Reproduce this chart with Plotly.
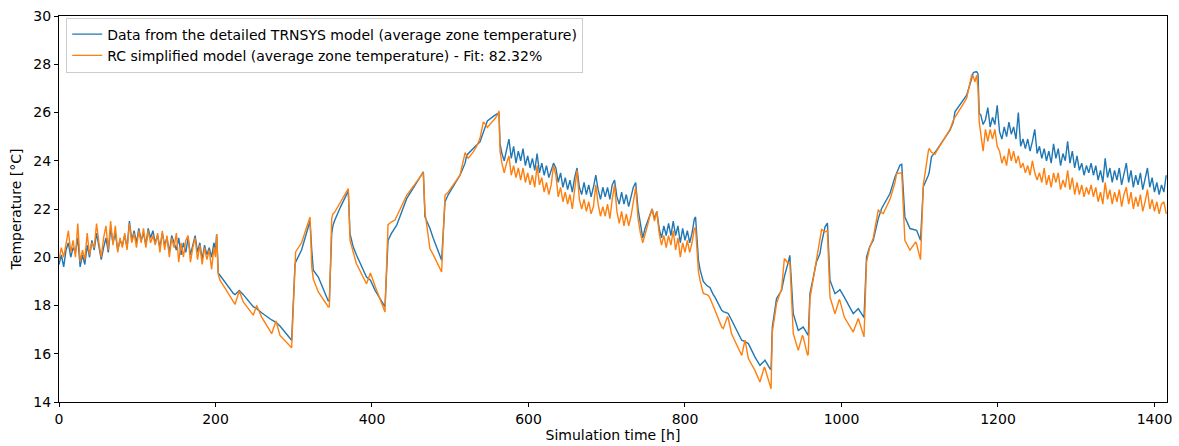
import plotly.graph_objects as go

# ---------------- data ----------------
# Segment A: noisy start, every 3 h from 0 to 198 h
hours_A = list(range(0, 199, 3))
blue_A = [19.7, 20.1, 19.6, 20.3, 20.6, 20.0, 20.4, 20.2, 20.8, 19.6,
          20.1, 19.7, 20.5, 20.0, 20.7, 20.3, 21.0, 20.5, 19.9, 20.4,
          20.8, 20.2, 21.2, 20.6, 21.0, 20.3, 20.7, 20.5, 20.9, 20.4,
          21.5, 20.7, 21.1, 20.6, 21.2, 20.7, 21.0, 20.5, 21.2, 20.8,
          21.1, 20.6, 20.9, 20.4, 21.0, 20.5, 20.8, 20.2, 20.9, 20.6,
          20.3, 20.8, 20.1, 20.6, 20.2, 20.8, 20.1, 20.5, 20.9, 20.2,
          20.6, 19.9, 20.5, 20.1, 20.4, 20.0, 20.6]
orange_A = [19.9, 20.4, 20.0, 20.6, 21.1, 20.2, 20.7, 20.0, 21.4, 19.8,
            20.3, 19.9, 21.0, 20.1, 20.6, 20.4, 21.4, 20.6, 20.0, 20.8,
            21.3, 20.3, 21.5, 20.5, 21.3, 20.2, 20.8, 20.4, 21.0, 20.3,
            21.4, 20.6, 21.0, 20.4, 21.1, 20.6, 21.2, 20.4, 21.1, 20.6,
            20.9, 20.5, 21.0, 20.2, 21.1, 20.3, 20.9, 20.0, 20.8, 20.4,
            21.0, 19.8, 20.6, 20.0, 20.7, 20.9, 19.8, 20.4, 20.8, 19.9,
            20.5, 19.7, 20.4, 19.9, 20.3, 19.5, 20.4]

# Segment B: smooth part 200 - 564 h
hours_B = [200, 201.5, 203.5, 205.7, 214, 222.8, 225, 230.4, 235.5, 248.3,
           252.6, 259, 271.8, 277.3, 282.4, 297.3, 301.6, 302.4, 310, 318.6,
           320.8, 323, 325, 331.4, 344, 345.5, 348.5, 350, 352, 360,
           369.7, 371.9, 376, 380, 393, 398, 404, 416.6, 420.5, 425,
           429.4, 431.6, 444.3, 465.6, 467.7, 474, 478.4, 489, 493.3, 497.5,
           512.5, 519, 521, 523, 529.5, 533.8, 538, 542.3, 546.6, 547.4,
           557.2, 561.4, 562.3, 563.6]
blue_B = [20.3, 20.95, 19.35, 19.25, 18.9, 18.5, 18.45, 18.62, 18.45, 17.95,
          17.87, 17.7, 17.4, 17.3, 17.15, 16.56, 19.7, 19.8, 20.3, 21.3,
          21.5, 20.3, 19.46, 19.18, 18.2, 18.2, 20.98, 21.3, 21.5, 22.1,
          22.75, 20.98, 20.43, 20.1, 19.18, 19.05, 18.63, 17.94, 20.7, 21.0,
          21.25, 21.33, 22.43, 23.54, 21.67, 21.2, 20.78, 19.88, 22.3, 22.6,
          23.4, 23.9, 24.23, 24.3, 24.5, 24.65, 24.78, 25.2, 25.61, 25.65,
          25.89, 25.96, 25.98, 24.72]
orange_B = [20.0, 20.95, 19.3, 19.05, 18.63, 18.2, 18.05, 18.6, 18.15, 17.6,
            18.0, 17.52, 16.83, 17.36, 16.76, 16.25, 20.1, 20.22, 20.6, 21.45,
            21.67, 19.6, 19.1, 18.56, 17.95, 17.95, 21.6, 21.8, 21.85, 22.3,
            22.85, 20.7, 20.2, 19.74, 18.9, 19.35, 18.8, 17.73, 21.35, 21.47,
            21.54, 21.7, 22.57, 23.51, 21.88, 20.36, 20.1, 19.39, 22.57, 22.71,
            23.4, 24.34, 24.2, 24.1, 24.37, 24.6, 24.93, 25.61, 25.45, 25.38,
            25.75, 25.95, 26.07, 24.4]

# Segment C: noisy part, every 3 h from 566 to 812 h
hours_C = list(range(566, 813, 3))
blue_C = [24.3, 24.0, 24.5, 24.9, 24.1, 24.6, 23.9, 24.4, 24.0, 24.5,
          23.8, 24.2, 23.7, 24.1, 23.6, 24.3, 23.5, 23.9, 23.4, 23.8,
          23.3, 23.6, 23.9, 23.7, 23.1, 23.5, 22.9, 23.3, 22.8, 23.2,
          22.7, 23.3, 23.7, 22.9, 22.6, 23.1, 22.6, 23.0, 22.5, 22.9,
          23.4, 22.8, 22.4, 22.9, 22.5, 22.9, 22.4, 23.0, 23.2, 22.5,
          22.2, 22.7, 22.2, 22.6, 22.1, 22.5, 22.9, 23.1, 22.0, 21.4,
          20.8, 21.2, 21.5, 21.8, 22.0, 21.6, 21.9, 21.2, 20.8, 21.3,
          20.9, 21.4, 20.9, 21.5, 20.9, 21.3, 20.6, 21.2, 20.7, 21.1,
          20.6, 21.0, 21.6]
orange_C = [23.9, 23.5, 23.9, 24.2, 23.4, 23.8, 23.3, 23.7, 23.2, 23.7,
            23.1, 23.5, 23.0, 23.4, 22.9, 23.8, 23.0, 23.3, 22.7, 23.1,
            22.6, 23.0, 23.8, 23.4, 22.5, 22.9, 22.3, 22.7, 22.2, 22.6,
            22.0, 22.8, 23.6, 22.4, 22.0, 22.4, 21.9, 22.3, 21.8, 22.1,
            23.0, 22.2, 21.7, 22.1, 21.7, 22.2, 21.6, 22.4, 23.0, 21.9,
            21.4, 21.9, 21.3, 21.8, 21.3, 21.7, 22.3, 22.9, 21.6, 21.0,
            20.6, 20.9, 21.3, 21.7, 22.0, 21.5, 21.9, 21.0, 20.5, 20.9,
            20.4, 20.9, 20.5, 21.1, 20.3, 20.8, 20.0, 20.6, 20.2, 20.7,
            20.2, 20.6, 21.2]

# Segment D: smooth part 813 - 1176 h
hours_D = [813.5, 817.2, 819.2, 821.3, 823.4, 827.6, 829.8, 832, 836.1, 838.3,
           846.9, 849, 854.4, 855.4, 859.5, 864, 872.5, 876.7, 881, 889.5,
           895.8, 901.4, 902.2, 908.6, 910, 911.6, 917, 923.5, 927, 932,
           934, 938.4, 944.8, 950, 951, 956.7, 957.6, 959.7, 966, 968,
           972.5, 974.6, 979, 982, 985.3, 991.7, 997.2, 998, 1003.6, 1015,
           1021.5, 1028.8, 1032, 1036, 1040.6, 1047, 1051.3, 1053.4, 1062, 1068.4,
           1070.5, 1074.8, 1077, 1081, 1087.5, 1094.8, 1096, 1101, 1104.6, 1111,
           1112, 1115, 1119.5, 1121.6, 1138.7, 1142.9, 1145, 1160, 1166.3, 1168.4,
           1170.5, 1172.8, 1174.5, 1176]
blue_D = [21.67, 19.88, 19.5, 19.18, 19.0, 18.84, 18.8, 18.74, 18.45, 18.35,
          17.8, 17.75, 17.68, 17.66, 17.4, 17.11, 16.56, 16.5, 16.42, 15.86,
          15.52, 15.7, 15.73, 15.38, 15.35, 17.11, 18.29, 18.63, 19.2, 19.8,
          20.08, 17.66, 16.97, 17.08, 17.11, 16.8, 16.76, 18.49, 19.6, 19.8,
          20.15, 20.6, 21.26, 21.42, 19.05, 18.49, 18.63, 18.66, 18.35, 17.66,
          17.87, 17.5, 20.01, 20.43, 20.7, 21.6, 22.02, 22.15, 22.64, 23.33,
          23.5, 23.82, 23.85, 21.67, 21.19, 21.12, 21.12, 20.7, 22.92, 23.4,
          23.5, 24.16, 24.35, 24.44, 25.27, 25.6, 26.03, 26.72, 27.4, 27.65,
          27.68, 27.69, 27.6, 25.96]
orange_D = [21.2, 19.4, 19.05, 18.8, 18.5, 18.45, 18.42, 18.3, 17.94, 17.8,
            17.11, 17.05, 17.55, 17.45, 16.83, 16.5, 15.93, 16.56, 15.8, 15.3,
            14.83, 15.45, 15.4, 14.7, 14.55, 16.9, 18.08, 18.7, 19.95, 19.74,
            19.78, 16.83, 16.14, 16.76, 16.7, 15.93, 16.0, 18.3, 19.5, 19.74,
            20.6, 21.15, 21.05, 21.1, 18.35, 17.66, 18.25, 18.2, 17.52, 16.9,
            17.46, 16.7, 19.8, 20.4, 20.8, 21.95, 21.85, 21.81, 22.4, 23.1,
            23.47, 23.5, 23.5, 20.7, 20.29, 20.64, 20.55, 19.9, 23.0, 24.4,
            24.51, 24.35, 24.27, 24.4, 25.3, 25.68, 25.8, 26.59, 27.55, 27.5,
            27.27, 27.55, 27.0, 25.6]

# Segment E: noisy end, every 3 h from 1178 to 1415 h
hours_E = list(range(1178, 1416, 3))
blue_E = [25.9, 25.5, 25.7, 26.2, 25.4, 25.8, 25.5, 26.3, 25.2, 24.9,
          25.4, 25.0, 25.6, 25.1, 25.4, 24.9, 26.0, 24.6, 24.9, 24.5,
          24.9, 24.4, 24.8, 25.3, 24.3, 24.6, 24.1, 24.5, 24.0, 24.4,
          23.9, 24.7, 24.1, 24.5, 23.8, 24.3, 24.0, 24.8, 23.9, 24.4,
          23.7, 24.2, 23.6, 23.9, 23.4, 23.8, 23.5, 23.9, 23.4, 23.8,
          23.2, 23.6, 23.1, 24.1, 23.3, 23.7, 23.1, 23.6, 23.2, 23.7,
          23.0, 23.5, 23.9, 23.1, 23.6, 22.9, 23.4, 23.0, 23.5, 22.8,
          23.2, 23.7, 22.9, 23.3, 22.7, 23.1, 22.6, 23.0, 22.7, 23.4]
orange_E = [25.1, 24.4, 25.3, 24.8, 25.3, 24.9, 25.3, 24.6, 24.4, 23.9,
            24.2, 23.8, 24.5, 24.0, 24.4, 23.9, 24.2, 23.7, 23.9, 23.5,
            23.8, 23.4, 24.0, 23.5, 23.2, 23.5, 23.1, 23.7, 23.0, 23.4,
            22.9, 23.5, 23.1, 23.5, 22.8, 23.2, 22.9, 23.6, 22.8, 23.3,
            22.6, 23.1, 22.6, 23.0, 22.5, 22.9, 22.6, 23.0, 22.5, 22.9,
            22.3, 22.7, 22.2, 23.1, 22.4, 22.8, 22.2, 22.7, 22.3, 22.8,
            22.1, 22.6, 22.9, 22.2, 22.7, 22.0, 22.5, 22.1, 22.6, 21.9,
            22.3, 22.8, 22.0, 22.4, 21.9, 22.3, 21.8, 22.2, 22.3, 21.8]

x_ticks = [0, 200, 400, 600, 800, 1000, 1200, 1400]
y_ticks = [14, 16, 18, 20, 22, 24, 26, 28, 30]

label_blue = "Data from the detailed TRNSYS model (average zone temperature)"
label_orange = "RC simplified model (average zone temperature) - Fit: 82.32%"

# ---------------- assemble ----------------
hours = hours_A + hours_B + hours_C + hours_D + hours_E
blue = blue_A + blue_B + blue_C + blue_D + blue_E
orange = orange_A + orange_B + orange_C + orange_D + orange_E

FONT = "DejaVu Sans"

fig = go.Figure()
fig.add_trace(go.Scatter(x=hours, y=blue, mode="lines", name=label_blue,
                         line=dict(color="#1f77b4", width=1.4)))
fig.add_trace(go.Scatter(x=hours, y=orange, mode="lines", name=label_orange,
                         line=dict(color="#ff7f0e", width=1.4)))

axis_common = dict(showline=True, mirror=True, linecolor="black", linewidth=1,
                   ticks="outside", ticklen=4, tickcolor="black", tickwidth=1,
                   showgrid=False, zeroline=False, automargin=False,
                   tickfont=dict(family=FONT, size=14, color="black"))

fig.update_layout(
    width=1179, height=446,
    margin=dict(l=59, r=12, t=16, b=44),
    paper_bgcolor="white", plot_bgcolor="white",
    font=dict(family=FONT, size=14, color="black"),
    showlegend=True,
    legend=dict(x=0.0065, y=0.996, xanchor="left", yanchor="top",
                bgcolor="rgba(255,255,255,0.85)", bordercolor="#cccccc",
                borderwidth=1, font=dict(family=FONT, size=14, color="black")),
    xaxis=dict(range=[0, 1416], tickvals=x_ticks,
               title=dict(text="Simulation time [h]", standoff=4,
                          font=dict(family=FONT, size=14)),
               **axis_common),
    yaxis=dict(range=[14, 30], tickvals=y_ticks,
               title=dict(text="Temperature [°C]", standoff=8,
                          font=dict(family=FONT, size=14)),
               **axis_common),
)

fig.write_html("out.html")
